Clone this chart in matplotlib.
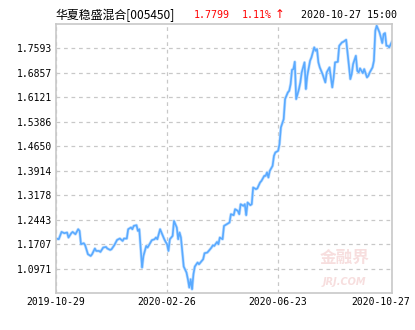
import matplotlib
matplotlib.use("Agg")
import matplotlib.pyplot as plt
import matplotlib.transforms as mtransforms

# fund NAV (x = trading day index)
days = [0, 2, 4, 6, 8, 9, 11, 12, 14, 16, 17, 18, 20, 21, 23, 25, 26, 28, 29, 31,
        32, 34, 36, 37, 39, 40, 42, 44, 46, 48, 49, 51, 52, 54, 55, 56, 58, 59, 60, 62,
        63, 65, 66, 68, 69, 71, 72, 73, 75, 76, 78, 79, 80, 81, 82, 84, 85, 87, 88, 89,
        90, 91, 92, 94, 95, 96, 97, 98, 99, 100, 102, 103, 104, 106, 107, 109, 110, 112, 113, 114,
        116, 117, 118, 120, 121, 123, 125, 126, 128, 129, 131, 132, 133, 135, 136, 137, 138, 140, 141, 142,
        144, 145, 147, 148, 150, 151, 152, 153, 154, 156, 157, 158, 160, 161, 162, 164, 165, 167, 168, 169,
        170, 171, 172, 173, 175, 176, 177, 179, 180, 181, 183, 184, 186, 187, 188, 189, 190, 192, 194, 195,
        197, 198, 199, 200, 201, 203, 204, 206, 207, 209, 210, 211, 212, 213, 214, 216, 217, 218, 219, 220,
        221, 222, 224, 225, 226, 228, 229, 230, 231, 233, 234, 235, 236, 237, 238, 239, 240, 242]
nav = [1.1874, 1.1853, 1.2073, 1.2034, 1.2055, 1.1904, 1.2034, 1.2073, 1.2004, 1.2154,
       1.2103, 1.1703, 1.1733, 1.1673, 1.1402, 1.1350, 1.1402, 1.1573, 1.1501, 1.1501,
       1.1471, 1.1603, 1.1621, 1.1573, 1.1531, 1.1552, 1.1673, 1.1832, 1.1874, 1.1802,
       1.1874, 1.1874, 1.2154, 1.2206, 1.2154, 1.2254, 1.2275, 1.2103, 1.2154, 1.1001,
       1.1350, 1.1651, 1.1603, 1.1754, 1.1823, 1.1853, 1.1904, 1.1853, 1.2154, 1.2055,
       1.1853, 1.1772, 1.1703, 1.1501, 1.1853, 1.1953, 1.2404, 1.2206, 1.1853, 1.2055,
       1.1904, 1.1453, 1.1031, 1.0851, 1.0649, 1.0399, 1.0649, 1.0348, 1.0799, 1.1031,
       1.1152, 1.1100, 1.1152, 1.1251, 1.1432, 1.1453, 1.1501, 1.1603, 1.1673, 1.1651,
       1.1772, 1.1703, 1.1904, 1.1853, 1.2254, 1.2305, 1.2356, 1.2606, 1.2576, 1.2757,
       1.2705, 1.2606, 1.2907, 1.2856, 1.2907, 1.2576, 1.2958, 1.2877, 1.2907, 1.3410,
       1.3359, 1.3380, 1.3560, 1.3609, 1.3759, 1.3759, 1.3862, 1.3711, 1.3910, 1.4060,
       1.4361, 1.4464, 1.4512, 1.4714, 1.5217, 1.5466, 1.6069, 1.6270, 1.6319, 1.6520,
       1.6951, 1.6972, 1.7192, 1.6069, 1.6370, 1.6571, 1.6873, 1.7174, 1.6370, 1.6770,
       1.7222, 1.7324, 1.7625, 1.7523, 1.7574, 1.7174, 1.7023, 1.6821, 1.6571, 1.6873,
       1.7023, 1.6722, 1.6421, 1.6722, 1.7174, 1.7192, 1.7673, 1.7776, 1.7794, 1.7854,
       1.7475, 1.7071, 1.6671, 1.6821, 1.7122, 1.7372, 1.6921, 1.6873, 1.6993, 1.6921,
       1.6851, 1.6972, 1.6722, 1.6770, 1.6873, 1.7023, 1.7222, 1.8125, 1.8276, 1.8077,
       1.7927, 1.7755, 1.8026, 1.8056, 1.7673, 1.7673, 1.7625, 1.7799]

y_ticks = [1.0971, 1.1707, 1.2443, 1.3178, 1.3914, 1.4650, 1.5386, 1.6121, 1.6857, 1.7593]
y_min, y_max = 1.0235, 1.8329
x_ticks = [0, 80, 160, 242]
x_labels = ['2019-10-29', '2020-02-26', '2020-06-23', '2020-10-27']

fig = plt.figure(figsize=(4.15, 3.30), dpi=100)
ax = fig.add_axes([0.1349, 0.1121, 0.8096, 0.8152])

# line with a soft halo like the original
ax.plot(days, nav, color='#c4e1ff', lw=2.2, solid_joinstyle='round')
ax.plot(days, nav, color='#5aaaff', lw=1.2, solid_joinstyle='round')

ax.set_xlim(0, 242)
ax.set_ylim(y_min, y_max)
ax.set_yticks(y_ticks)
ax.set_yticklabels(['%.4f' % v for v in y_ticks], family='DejaVu Sans Mono', fontsize=7)
ax.set_xticks(x_ticks)
ax.set_xticklabels(x_labels, family='DejaVu Sans Mono', fontsize=7)
ax.tick_params(length=0, pad=3)

# last date label is pushed inside the picture
shift = mtransforms.ScaledTranslation(-0.11, 0, fig.dpi_scale_trans)
lab = ax.get_xticklabels()[-1]
lab.set_transform(lab.get_transform() + shift)

ax.grid(True, color='#c8c8c8', linestyle=(0, (3, 3)), lw=0.9)
for s in ax.spines.values():
    s.set_color('#c8c8c8')
    s.set_linewidth(1.2)

# watermark
ax.text(0.86, 0.13, '金融界', transform=ax.transAxes, ha='center', va='center',
        fontsize=12, color='#f7dede', family=['Noto Sans CJK SC', 'DejaVu Sans'], fontweight='bold')
ax.text(0.86, 0.04, 'JRJ.COM', transform=ax.transAxes, ha='center', va='center',
        fontsize=7, color='#f7dede', style='italic', fontweight='bold')

# header
ty = 1 - 15 / 330
fig.text(55 / 415, ty, '华夏稳盛混合[005450]', ha='left', va='center', fontsize=8.6,
         family=['Noto Sans CJK SC', 'DejaVu Sans'])
fig.text(194 / 415, ty, '1.7799', ha='left', va='center', fontsize=7.2, color='red',
         family='DejaVu Sans Mono')
fig.text(242 / 415, ty, '1.11%', ha='left', va='center', fontsize=7.2, color='red',
         family='DejaVu Sans Mono')
fig.text(280 / 415, ty, '↑', ha='center', va='center', fontsize=8.5, color='red',
         family='DejaVu Sans')
fig.text(397 / 415, ty, '2020-10-27 15:00', ha='right', va='center', fontsize=7.2,
         family='DejaVu Sans Mono')

fig.savefig('out.png', dpi=100)
